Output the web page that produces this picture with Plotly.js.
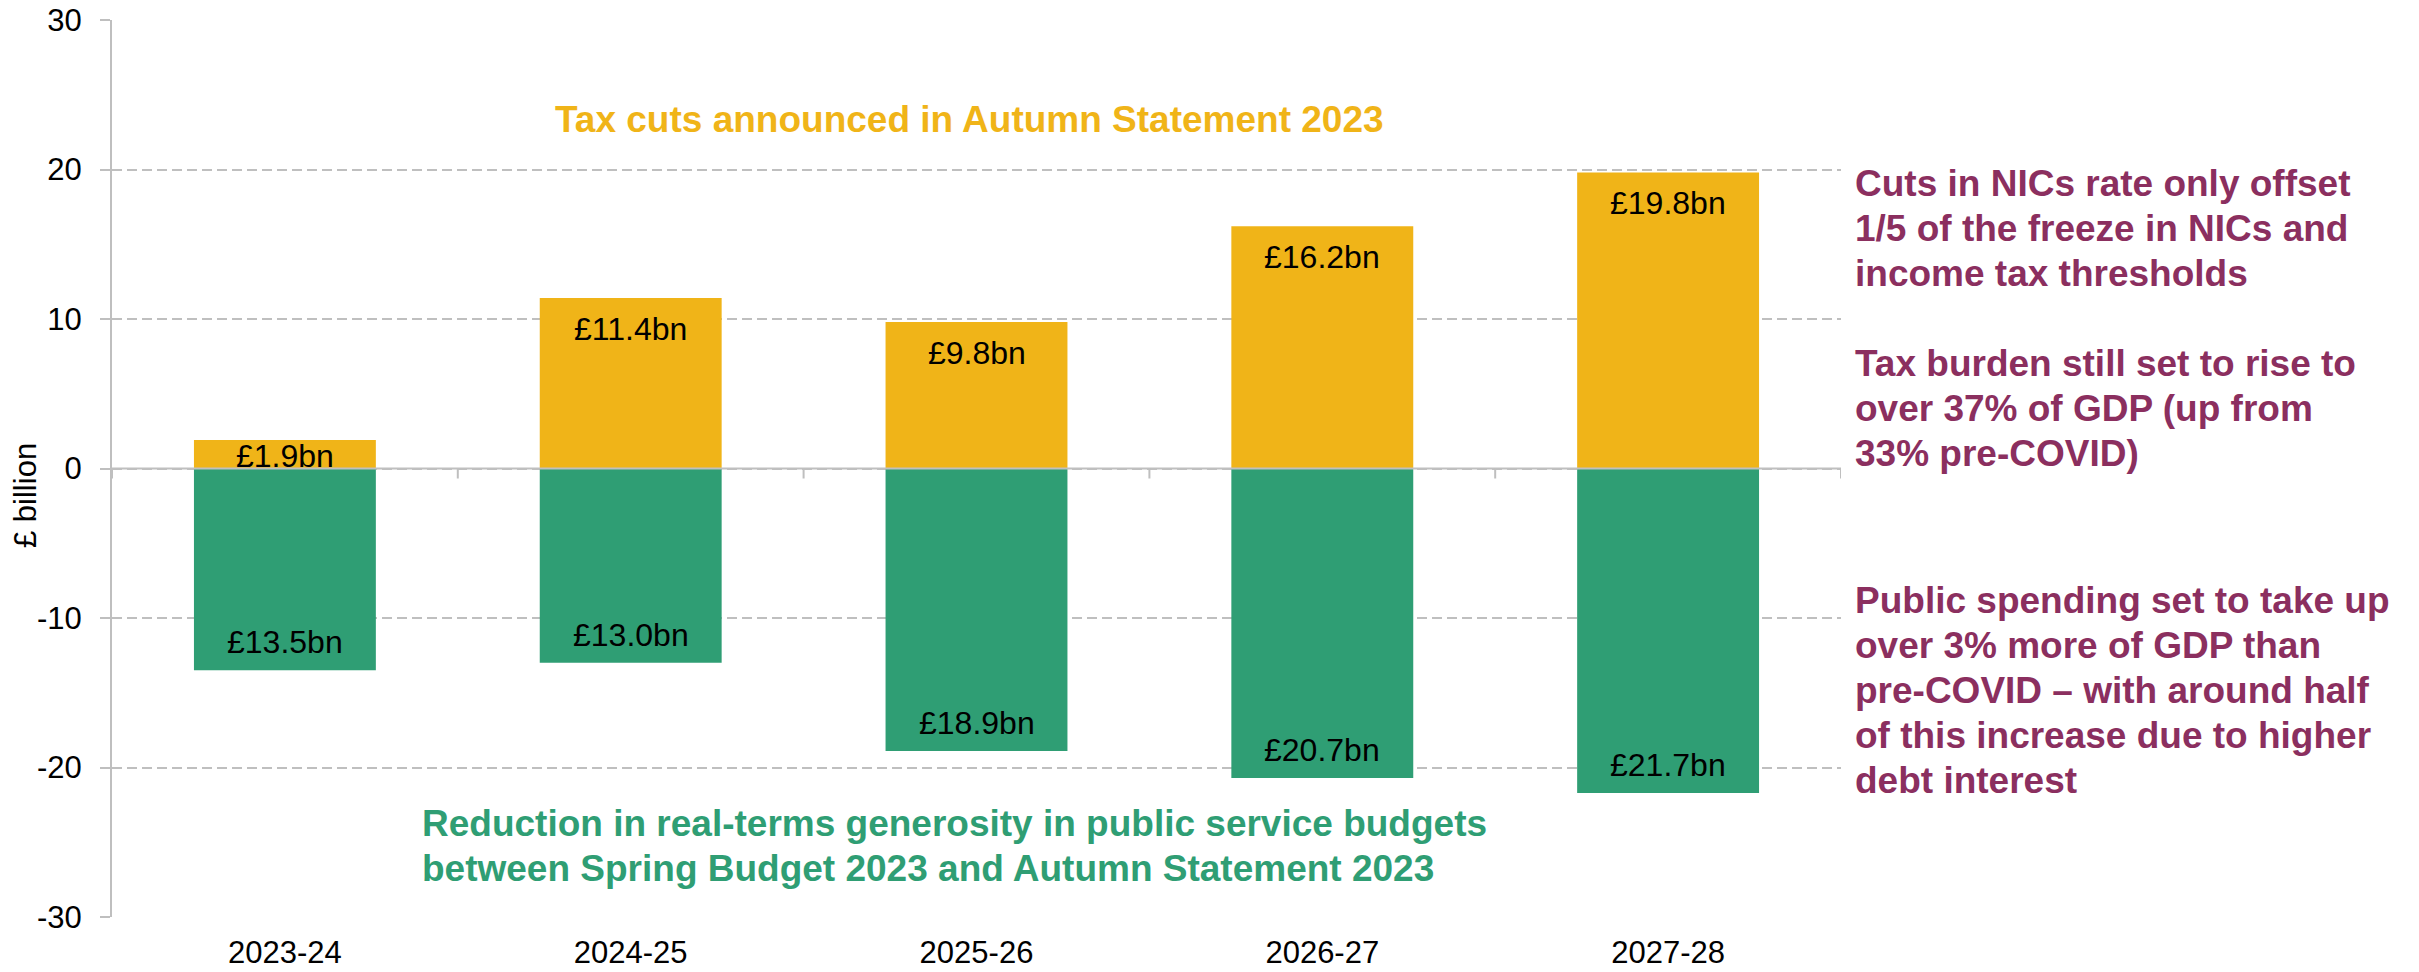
<!DOCTYPE html>
<html>
<head>
<meta charset="utf-8">
<script src="https://cdn.plot.ly/plotly-3.0.1.min.js"></script>
<style>
  html, body { margin: 0; padding: 0; background: #ffffff; }
  #chart { width: 2419px; height: 972px; }
</style>
</head>
<body>
<div id="chart"></div>
<script>
// Fiscal years on the horizontal axis
const years = ['2023-24', '2024-25', '2025-26', '2026-27', '2027-28'];

// Tax cuts announced in Autumn Statement 2023 (£ billion)
const taxCuts = [1.9, 11.4, 9.8, 16.2, 19.8];

// Reduction in real-terms public service budgets (£ billion, drawn below zero)
const spendingCuts = [13.5, 13.0, 18.9, 20.7, 21.7];

// Value axis
const yTicks = [-30, -20, -10, 0, 10, 20, 30];
const yTickText = ['-30', '-20', '-10', '0', '10', '20', '30'];

// Annotation text
const taxNote = 'Tax cuts announced in Autumn Statement 2023';
const spendNote = [
  'Reduction in real-terms generosity in public service budgets',
  'between Spring Budget 2023 and Autumn Statement 2023'
];
const nicsNote = [
  'Cuts in NICs rate only offset',
  '1/5 of the freeze in NICs and',
  'income tax thresholds'
];
const burdenNote = [
  'Tax burden still set to rise to',
  'over 37% of GDP (up from',
  '33% pre-COVID)'
];
const spendingNote = [
  'Public spending set to take up',
  'over 3% more of GDP than',
  'pre-COVID \u2013 with around half',
  'of this increase due to higher',
  'debt interest'
];

const W = 2419, H = 972;
const M = { l: 112, r: 578, t: 20, b: 55 };
const plotW = W - M.l - M.r;
const plotH = H - M.t - M.b;
const yMin = -30, yMax = 30;
const pxPerUnit = plotH / (yMax - yMin);

const ORANGE = '#F0B418';
const GREEN = '#2F9E74';
const PURPLE = '#8B2F5F';
const GRID = '#BFBFBF';
const FONT = 'Liberation Sans, Arial, Helvetica, sans-serif';

// pixel -> paper helpers for free-floating notes
const px2x = px => (px - M.l) / plotW;
const py2y = py => (H - M.b - py) / plotH;

const fmt = v => '\u00A3' + v.toFixed(1) + 'bn';

const traces = [
  {
    type: 'bar',
    name: 'Tax cuts',
    x: years,
    y: taxCuts,
    marker: { color: ORANGE, line: { width: 0 } },
    hoverinfo: 'skip'
  },
  {
    type: 'bar',
    name: 'Spending reduction',
    x: years,
    y: spendingCuts.map(v => -v),
    marker: { color: GREEN, line: { width: 0 } },
    hoverinfo: 'skip'
  }
];

const annotations = [];

// value labels inside the bars
taxCuts.forEach((v, i) => {
  const barPx = v * pxPerUnit;
  const shift = Math.min(31, barPx / 2 + 2);
  annotations.push({
    xref: 'x', yref: 'y', x: years[i], y: v,
    text: fmt(v), showarrow: false,
    xanchor: 'center', yanchor: 'middle', yshift: -shift,
    font: { family: FONT, size: 32, color: '#000000' }
  });
});
spendingCuts.forEach((v, i) => {
  annotations.push({
    xref: 'x', yref: 'y', x: years[i], y: -v,
    text: fmt(v), showarrow: false,
    xanchor: 'center', yanchor: 'middle', yshift: 28,
    font: { family: FONT, size: 32, color: '#000000' }
  });
});

// axis title
annotations.push({
  xref: 'paper', yref: 'paper', x: px2x(25), y: py2y(496),
  text: '\u00A3 billion', showarrow: false, textangle: -90,
  xanchor: 'center', yanchor: 'middle',
  font: { family: FONT, size: 31, color: '#000000' }
});

// orange heading over the bars
annotations.push({
  xref: 'paper', yref: 'paper', x: px2x(969), y: py2y(119),
  text: '<b>' + taxNote + '</b>', showarrow: false,
  xanchor: 'center', yanchor: 'middle',
  font: { family: FONT, size: 37, color: ORANGE }
});

// helper for left-aligned multi-line notes, one annotation per line
function addLines(lines, leftPx, firstCenterPx, step, color) {
  lines.forEach((t, k) => {
    annotations.push({
      xref: 'paper', yref: 'paper', x: px2x(leftPx), y: py2y(firstCenterPx + k * step),
      text: '<b>' + t + '</b>', showarrow: false,
      xanchor: 'left', yanchor: 'middle', align: 'left',
      font: { family: FONT, size: 37, color: color }
    });
  });
}
addLines(spendNote, 420, 823.5, 45, GREEN);
addLines(nicsNote, 1853, 183.5, 45, PURPLE);
addLines(burdenNote, 1853, 363.5, 45, PURPLE);
addLines(spendingNote, 1853, 600, 45, PURPLE);

// zero line across the plot, kept above the bars, with category boundary ticks
const shapes = [{
  type: 'line', layer: 'above',
  xref: 'paper', yref: 'y', x0: 0, x1: 1, y0: 0, y1: 0,
  line: { color: GRID, width: 2 }
}];
for (let b = 0; b <= years.length; b++) {
  shapes.push({
    type: 'line', layer: 'above',
    xref: 'x', yref: 'y', x0: b - 0.5, x1: b - 0.5, y0: 0, y1: -10 / pxPerUnit,
    line: { color: GRID, width: 2 }
  });
}

const layout = {
  width: W, height: H,
  margin: M,
  paper_bgcolor: '#ffffff',
  plot_bgcolor: '#ffffff',
  showlegend: false,
  barmode: 'relative',
  bargap: 0.474,
  font: { family: FONT, color: '#000000' },
  xaxis: {
    type: 'category',
    range: [-0.5, 4.5],
    showgrid: false,
    zeroline: false,
    showline: false,
    ticks: '',
    ticklabelstandoff: 14,
    tickfont: { family: FONT, size: 31, color: '#000000' },
    fixedrange: true
  },
  yaxis: {
    range: [yMin, yMax],
    tickvals: yTicks,
    ticktext: yTickText,
    showgrid: true,
    gridcolor: GRID,
    gridwidth: 2,
    griddash: '10px,5px',
    zeroline: false,
    showline: true,
    linecolor: GRID,
    linewidth: 2,
    ticks: 'outside',
    ticklen: 10,
    tickwidth: 2,
    tickcolor: GRID,
    ticklabelstandoff: 12,
    tickfont: { family: FONT, size: 31, color: '#000000' },
    fixedrange: true
  },
  annotations: annotations,
  shapes: shapes
};

Plotly.newPlot('chart', traces, layout, { displayModeBar: false, staticPlot: true });
</script>
</body>
</html>
